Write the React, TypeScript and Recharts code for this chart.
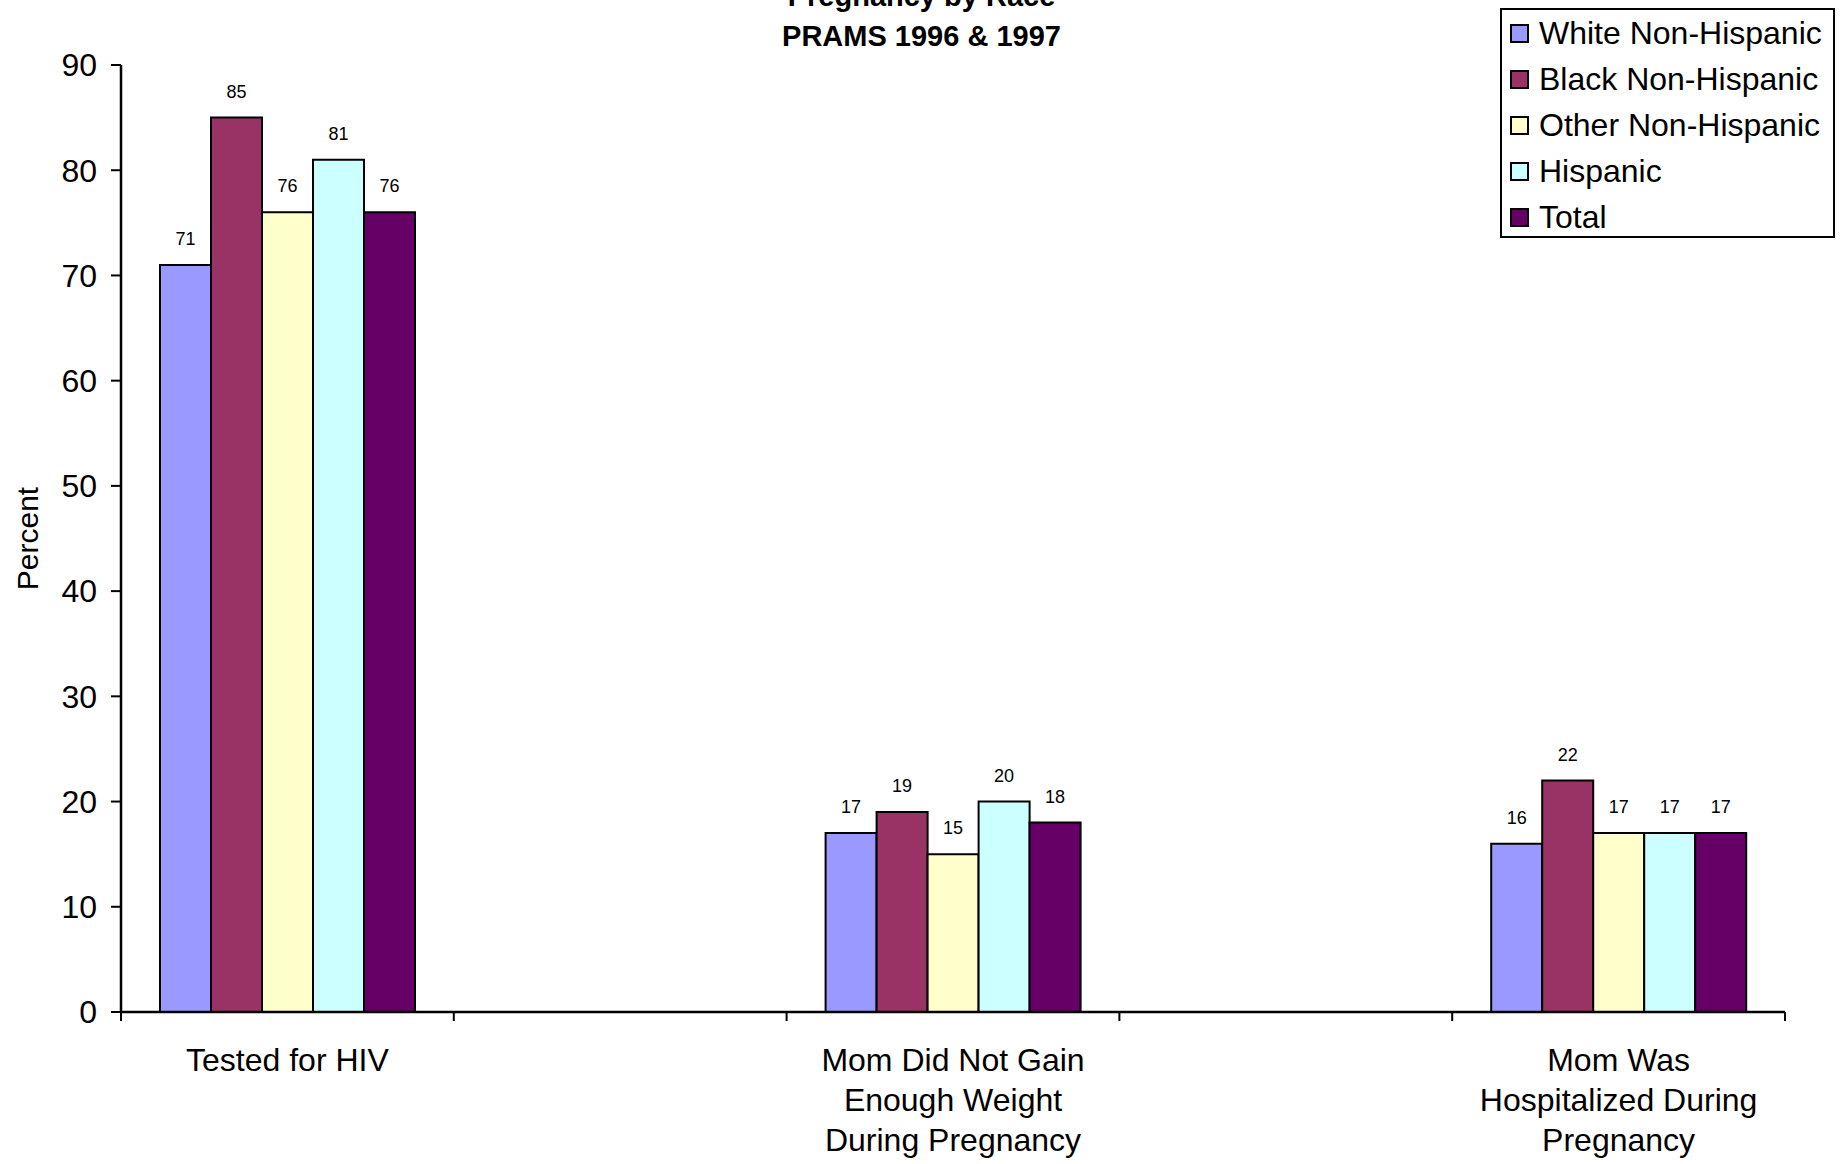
import { Bar, BarChart, LabelList, Legend, XAxis, YAxis } from 'recharts';

const categories = [
  'Tested for HIV',
  '',
  'Mom Did Not Gain\nEnough Weight\nDuring Pregnancy',
  '',
  'Mom Was\nHospitalized During\nPregnancy'
];

const whiteNonHispanic = [71, null, 17, null, 16];
const blackNonHispanic = [85, null, 19, null, 22];
const otherNonHispanic = [76, null, 15, null, 17];
const hispanic = [81, null, 20, null, 17];
const total = [76, null, 18, null, 17];

const yTicks = [0, 10, 20, 30, 40, 50, 60, 70, 80, 90];

const series = [
  { key: 'white', name: 'White Non-Hispanic', values: whiteNonHispanic, color: '#9999ff' },
  { key: 'black', name: 'Black Non-Hispanic', values: blackNonHispanic, color: '#993366' },
  { key: 'other', name: 'Other Non-Hispanic', values: otherNonHispanic, color: '#ffffcc' },
  { key: 'hispanic', name: 'Hispanic', values: hispanic, color: '#ccffff' },
  { key: 'total', name: 'Total', values: total, color: '#660066' }
];

const data = categories.map((name, i) => {
  const row: Record<string, string | number | null> = { name };
  series.forEach((s) => {
    row[s.key] = s.values[i];
  });
  return row;
});

const W = 1843;
const H = 1164;
const margin = { top: 65, right: 58, left: 0, bottom: 0 };
const yAxisWidth = 121;
const xAxisHeight = 152;
const band = (W - margin.left - margin.right - yAxisWidth) / categories.length;
const font = '"Liberation Sans", Arial, sans-serif';

function CategoryTick(props: any) {
  const { x, y, payload, index } = props;
  const lines = String(payload.value).split('\n');
  return (
    <g>
      <line x1={x - band / 2} x2={x - band / 2} y1={y} y2={y + 9} stroke="#000" strokeWidth={2} />
      {index === categories.length - 1 && (
        <line x1={x + band / 2} x2={x + band / 2} y1={y} y2={y + 9} stroke="#000" strokeWidth={2} />
      )}
      {lines.map((l, i) =>
        l ? (
          <text
            key={i}
            x={x}
            y={y + 48 + i * 40}
            textAnchor="middle"
            dominantBaseline="central"
            fontSize={32}
            fill="#000"
          >
            {l}
          </text>
        ) : null
      )}
    </g>
  );
}

function LegendBox() {
  return (
    <div
      style={{
        boxSizing: 'border-box',
        width: 335,
        height: 230,
        border: '2px solid #000',
        background: '#fff',
        padding: '0 0 0 8px',
        fontFamily: font,
        fontSize: 32
      }}
    >
      {series.map((s) => (
        <div key={s.key} style={{ display: 'flex', alignItems: 'center', height: 46 }}>
          <span
            style={{
              boxSizing: 'border-box',
              width: 19,
              height: 19,
              background: s.color,
              border: '2px solid #000',
              marginRight: 10
            }}
          />
          <span style={{ color: '#000', whiteSpace: 'nowrap' }}>{s.name}</span>
        </div>
      ))}
    </div>
  );
}

export default function App() {
  return (
    <div style={{ position: 'absolute', left: 0, top: 0, width: W, height: H, fontFamily: font, background: '#fff', overflow: 'hidden' }}>
      <div
        style={{
          position: 'absolute',
          left: 0,
          width: W,
          top: -24,
          textAlign: 'center',
          fontWeight: 700,
          fontSize: 29,
          lineHeight: '40px',
          color: '#000'
        }}
      >
        <div>Pregnancy by Race</div>
        <div>PRAMS 1996 &amp; 1997</div>
      </div>
      <BarChart width={W} height={H} data={data} margin={margin} barGap={0} barSize={51} style={{ fontFamily: font }}>
        <XAxis
          dataKey="name"
          interval={0}
          height={xAxisHeight}
          tickSize={0}
          tickMargin={0}
          axisLine={{ stroke: '#000', strokeWidth: 2.5 }}
          tick={<CategoryTick />}
        />
        <YAxis
          width={yAxisWidth}
          domain={[0, 90]}
          ticks={yTicks}
          interval={0}
          tickSize={10}
          tickMargin={14}
          axisLine={{ stroke: '#000', strokeWidth: 2.5 }}
          tickLine={{ stroke: '#000', strokeWidth: 2 }}
          tick={{ fill: '#000', fontSize: 32 }}
          label={{ value: 'Percent', angle: -90, position: 'center', dx: -33, fill: '#000', fontSize: 30 }}
        />
        <Legend
          layout="vertical"
          align="center"
          verticalAlign="middle"
          wrapperStyle={{ position: 'absolute', left: 1500, top: 8, width: 335, height: 230 }}
          content={() => <LegendBox />}
        />
        {series.map((s) => (
          <Bar
            key={s.key}
            dataKey={s.key}
            name={s.name}
            fill={s.color}
            stroke="#000"
            strokeWidth={2}
            isAnimationActive={false}
          >
            <LabelList
              dataKey={s.key}
              position="top"
              offset={20}
              fill="#000"
              fontSize={18}
              formatter={(v: any) => (v == null ? '' : v)}
            />
          </Bar>
        ))}
      </BarChart>
    </div>
  );
}
